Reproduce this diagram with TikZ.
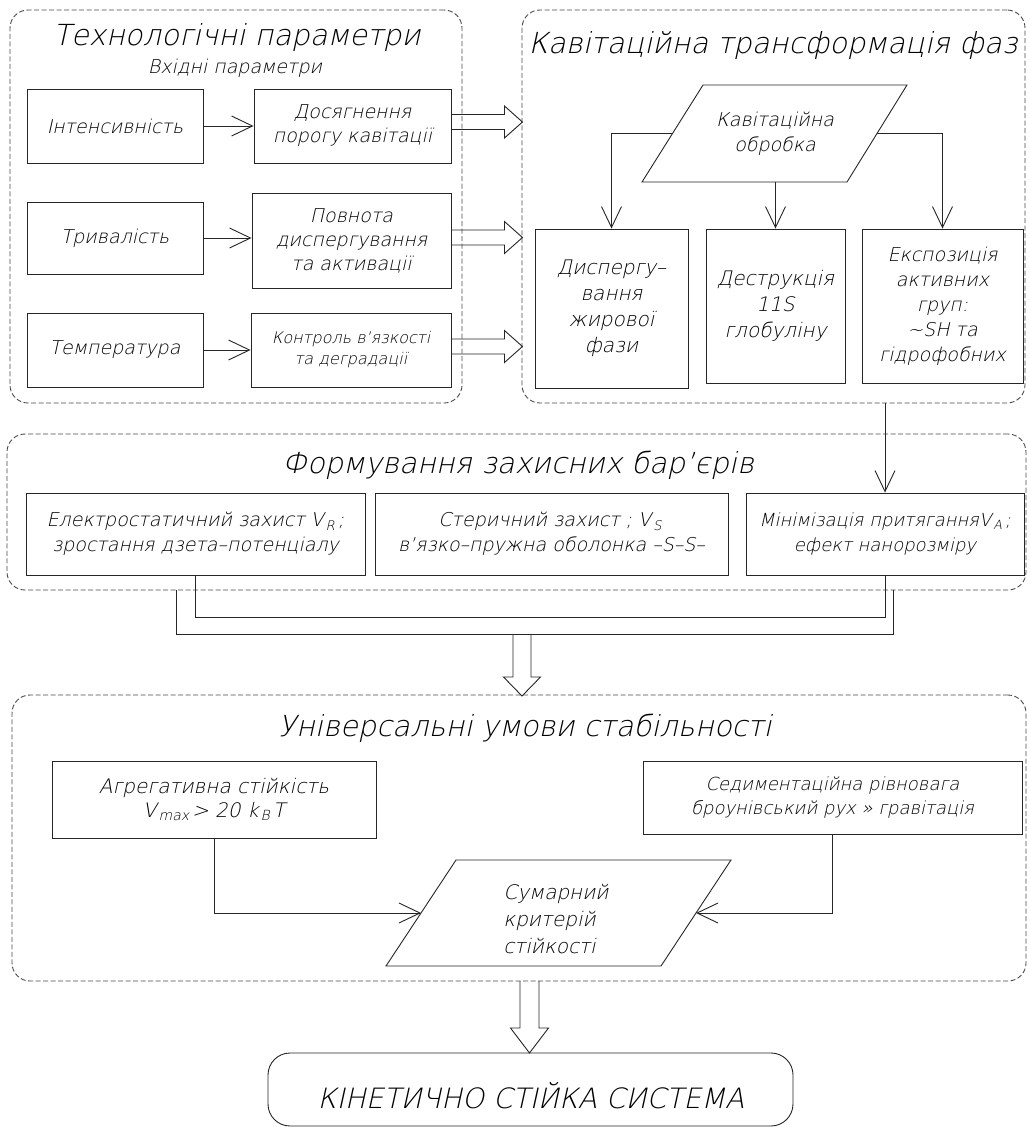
\documentclass[tikz,border=0pt]{standalone}
\usepackage{fontspec}
\setmainfont{DejaVu Sans ExtraLight}[FakeSlant=0.22]
\usetikzlibrary{arrows.meta,calc}
\newcommand{\fs}[2]{\fontsize{#1}{#2}\selectfont}
\newcommand{\sbx}[1]{\kern2pt\textsubscript{#1}\kern2.5pt}
\tikzset{
  lin/.style={draw=black!85, line width=0.9pt},
  box/.style={lin, rectangle, inner sep=2pt, align=center, font=\fs{19}{24}},
  plain/.style={inner sep=0pt, align=center},
  grp/.style={draw=black!70, line width=0.9pt, dash pattern=on 5pt off 2.5pt, rounded corners=18pt, rectangle},
  con/.style={lin, -{Straight Barb[length=21pt,width=20pt]}},
  blk/.style={lin, line join=miter},
  ttl/.style={plain, font=\fs{29}{34}},
  finbox/.style={lin, rectangle, rounded corners=22pt},
}
\begin{document}
\begin{tikzpicture}[x=1pt,y=-1pt]
\useasboundingbox (0,0) rectangle (1029,1127);
\fill[white] (0,0) rectangle (1029,1127);
% group frames
\node[grp, minimum width=452, minimum height=393] (G1) at (236,206.5) {};
\node[grp, minimum width=503, minimum height=393] (G2) at (773.5,206.5) {};
\node[grp, minimum width=1019, minimum height=156] (G3) at (516.5,512) {};
\node[grp, minimum width=1014, minimum height=286] (G4) at (519,838) {};
% titles
\node[ttl] (T1) at (237,37) {Технологічні параметри};
\node[plain, font=\fs{19}{24}] (S1) at (235,68) {Вхідні параметри};
\node[ttl] (T2) at (773,45) {Кавітаційна трансформація фаз};
\node[ttl] (T3) at (518,465) {Формування захисних бар’єрів};
\node[ttl] (T4) at (525,728) {Універсальні умови стабільності};
% group 1
\node[box, minimum width=176, minimum height=74] (I1) at (115,126) {Інтенсивність};
\node[box, minimum width=197, minimum height=74] (O1) at (352.5,126) {Досягнення\\порогу кавітації};
\node[box, minimum width=176, minimum height=72] (I2) at (115,238) {Тривалість};
\node[box, minimum width=199, minimum height=95] (O2) at (351.5,240.5) {Повнота\\диспергування\\та активації};
\node[box, minimum width=176, minimum height=74] (I3) at (115,350) {Температура};
\node[box, minimum width=200, minimum height=74, font=\fs{16}{21}] (O3) at (351,350) {Контроль в’язкості\\та деградації};
\draw[con] (I1.east) -- (O1.west |- I1.east);
\draw[con] (I2.east) -- (O2.west |- I2.east);
\draw[con] (I3.east) -- (O3.west |- I3.east);
\draw[blk] ($(O1.east)+(0,-4)$) ++(0,-7.5) -- ++(53,0) -- ++(0,-8.5) -- ++(18,16) -- ++(-18,16) -- ++(0,-8.5) -- ++(-53,0);
\draw[blk] ($(O2.east)+(0,-3)$) ++(0,-7.5) -- ++(53,0) -- ++(0,-8.5) -- ++(18,16) -- ++(-18,16) -- ++(0,-8.5) -- ++(-53,0);
\draw[blk] ($(O3.east)+(0,-3.5)$) ++(0,-7.5) -- ++(53,0) -- ++(0,-8.5) -- ++(18,16) -- ++(-18,16) -- ++(0,-8.5) -- ++(-53,0);
% group 2
\node[plain, font=\fs{19}{25}] (CAV) at (775,133.5) {Кавітаційна\\обробка};
\draw[lin] (703,85) -- (907,85) -- (847,182) -- (642,182) -- cycle;
\coordinate (CAVl) at (672.5,133.5);
\coordinate (CAVr) at (877,133.5);
\coordinate (CAVb) at (775.5,182);
\node[box, minimum width=153, minimum height=159, font=\fs{20}{26}] (D1) at (611.5,308.5) {Диспергу–\\вання\\жирової\\фази};
\node[box, minimum width=139, minimum height=154, font=\fs{20}{26}] (D2) at (775.5,306) {Деструкція\\11S\\глобуліну};
\node[box, minimum width=161, minimum height=154, font=\fs{19}{25}] (D3) at (942.5,306) {Експозиція\\активних\\груп:\\\textasciitilde SH та\\гідрофобних};
\draw[con] (CAVl) -| (D1.north);
\draw[con] (CAVb) -- (D2.north);
\draw[con] (CAVr) -| (D3.north);
% group 3
\node[box, minimum width=339, minimum height=82, font=\fs{19}{25}] (E1) at (195.5,534) {Електростатичний захист V\sbx{R};\\зростання дзета–потенціалу};
\node[box, minimum width=353, minimum height=82, font=\fs{19}{25}] (E2) at (551.5,534) {Стеричний захист ; V\sbx{S}\\в’язко–пружна оболонка –S–S–};
\node[box, minimum width=278, minimum height=82, font=\fs{18}{25}] (E3) at (885,534) {Мінімізація притяганняV\sbx{A};\\ефект нанорозміру};
\draw[con] (E3.north |- G2.south) -- (E3.north);
\draw[lin] (E1.south) -- ++(0,42) -| (E3.south);
\coordinate (OL) at (176,590);
\coordinate (OR) at (893,590);
\draw[lin] (OL) -- ++(0,44) -| (OR);
\coordinate (B1) at (522,634);
\draw[blk] (B1) ++(-9,0) -- ++(0,43) -- ++(-9.5,0) -- ++(18.5,19) -- ++(18.5,-19) -- ++(-9.5,0) -- ++(0,-43);
% group 4
\node[box, minimum width=324, minimum height=77, font=\fs{20}{24}] (A1) at (214,799.5) {Агрегативна стійкість\\V\sbx{max}> 20 k\sbx{B}T};
\node[box, minimum width=379, minimum height=73, font=\fs{18}{24}] (A2) at (832.5,797.5) {Седиментаційна рівновага\\броунівський рух » гравітація};
\draw[lin] (456,860) -- (731,860) -- (661,966) -- (386,966) -- cycle;
\node[plain, font=\fs{20}{27}, align=left] (SUM) at (556,919) {Сумарний\\критерій\\стійкості};
\coordinate (SUMl) at (421,913);
\coordinate (SUMr) at (696,913);
\draw[con] (A1.south) |- (SUMl);
\draw[con] (A2.south) |- (SUMr);
\coordinate (B2) at (529.5,981);
\draw[blk] (B2) ++(-9.5,0) -- ++(0,47) -- ++(-9.5,0) -- ++(19,25) -- ++(19,-25) -- ++(-9.5,0) -- ++(0,-47);
% final
\node[finbox, minimum width=525, minimum height=73] (FIN) at (530.5,1089.5) {};
\node[plain, font=\fs{28}{32}] (FINT) at (531,1096) {КІНЕТИЧНО СТІЙКА СИСТЕМА};
\end{tikzpicture}
\end{document}
